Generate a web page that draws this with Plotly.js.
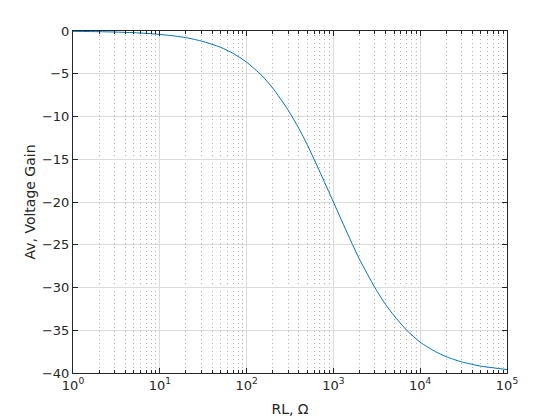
<!DOCTYPE html>
<html>
<head>
<meta charset="utf-8">
<script src="https://cdn.plot.ly/plotly-3.0.1.min.js"></script>
<style>html,body{margin:0;padding:0;background:#fff;}#chart{width:560px;height:420px;}</style>
</head>
<body>
<div id="chart"></div>
<script>
// RL (ohms) and read-off voltage gain values
const rl = [1, 2, 3, 5, 7, 10, 15, 20, 30, 50, 70, 100, 150, 200, 300, 400, 500, 700, 1000, 1500, 2000, 3000, 4000, 5000, 7000, 10000, 15000, 20000, 30000, 50000, 70000, 100000];
const av = [-0.04, -0.08, -0.12, -0.2, -0.28, -0.4, -0.59, -0.78, -1.17, -1.9, -2.62, -3.64, -5.22, -6.67, -9.23, -11.4, -13.3, -16.5, -20.0, -24.0, -26.7, -30.0, -32.0, -33.3, -35.0, -36.4, -37.5, -38.1, -38.7, -39.2, -39.4, -39.6];
const xTickVals = [1, 10, 100, 1000, 10000, 100000];
const xTickText = ['10<sup>0</sup>', '10<sup>1</sup>', '10<sup>2</sup>', '10<sup>3</sup>', '10<sup>4</sup>', '10<sup>5</sup>'];
const yTickVals = [-40, -35, -30, -25, -20, -15, -10, -5, 0];

const axisColor = '#262626';
const trace = {
  x: rl, y: av, type: 'scatter', mode: 'lines',
  line: {color: '#0072BD', width: 1, shape: 'spline', smoothing: 0.6},
  hoverinfo: 'skip'
};
const layout = {
  width: 560, height: 420,
  margin: {l: 73, r: 53, t: 31, b: 47},
  paper_bgcolor: '#ffffff', plot_bgcolor: '#ffffff',
  font: {family: 'DejaVu Sans, sans-serif', size: 12, color: axisColor},
  showlegend: false,
  xaxis: {
    type: 'log', range: [0, 5],
    tickmode: 'array', tickvals: xTickVals, ticktext: xTickText,
    tickfont: {size: 13, color: axisColor},
    ticks: 'inside', ticklen: 5, tickcolor: axisColor, tickwidth: 1,
    showline: true, linecolor: axisColor, linewidth: 1, mirror: 'ticks',
    showgrid: true, gridcolor: '#dcdcdc', gridwidth: 1,
    zeroline: false,
    minor: {dtick: 'D1', ticks: 'inside', ticklen: 3, tickcolor: axisColor, showgrid: true, gridcolor: '#b4b4b4', griddash: '1px,3px', gridwidth: 1},
    title: {text: 'RL, Ω', font: {size: 14, color: axisColor}, standoff: 12}
  },
  yaxis: {
    range: [-40, 0],
    tickmode: 'array', tickvals: yTickVals,
    tickfont: {size: 13, color: axisColor},
    ticks: 'inside', ticklen: 5, tickcolor: axisColor, tickwidth: 1,
    showline: true, linecolor: axisColor, linewidth: 1, mirror: 'ticks',
    showgrid: true, gridcolor: '#dcdcdc', gridwidth: 1,
    zeroline: false,
    title: {text: 'Av, Voltage Gain', font: {size: 14, color: axisColor}, standoff: 3}
  }
};
Plotly.newPlot('chart', [trace], layout, {displayModeBar: false, staticPlot: true});
</script>
</body>
</html>
